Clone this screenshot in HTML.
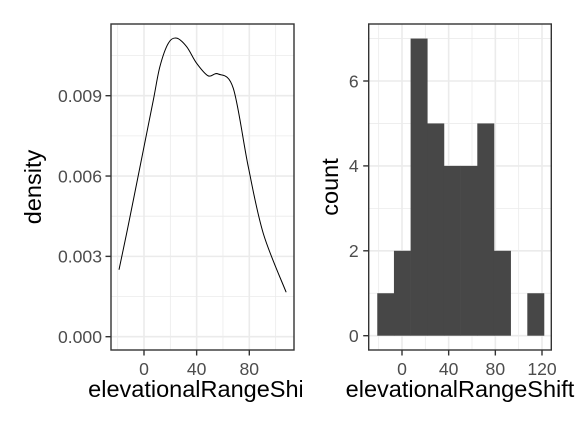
<!DOCTYPE html>
<html><head><meta charset="utf-8"><style>
body{margin:0;background:#fff}
svg{display:block;font-family:"Liberation Sans",Arial,sans-serif}
</style></head><body>
<svg id="chart" width="576" height="432" viewBox="0 0 576 432">
<defs><clipPath id="lclip"><rect x="0" y="0" width="302" height="432"/></clipPath></defs>
</svg>
<script>
// Left: density curve samples
const densX = [-19, -13.2, -8.1, -0.5, 7.1, 12.1, 18.5, 24.8, 32.4, 40, 48.8, 56.4, 67.8, 79.2, 90.6, 108];
const densY = [0.0025, 0.00386, 0.0051, 0.00697, 0.00884, 0.01009, 0.01096, 0.01115, 0.01083, 0.01021, 0.00974, 0.00981, 0.00928, 0.00635, 0.00386, 0.00166];
const densXTicks = [0, 40, 80];
const densYTicks = [0.000, 0.003, 0.006, 0.009];
const densYLabels = ["0.000", "0.003", "0.006", "0.009"];
// Right: histogram
const binStart = -21.2;
const binWidth = 14.29;
const counts = [1, 2, 7, 5, 4, 4, 5, 2, 0, 1];
const histXTicks = [0, 40, 80, 120];
const histYTicks = [0, 2, 4, 6];

const NS = "http://www.w3.org/2000/svg";
const svg = document.getElementById('chart');
function mk(tag, attrs, parent, text){
  const e = document.createElementNS(NS, tag);
  for (const k in attrs) e.setAttribute(k, attrs[k]);
  if (text !== undefined) e.textContent = text;
  (parent || svg).appendChild(e);
  return e;
}
const TF = 17.6, TT = 23.5;

const L = {x0:111, x1:294, y0:24, y1:350};
const lx = v => 144 + (v - 0) * (249.3 - 144) / 80;
const ly = v => 336.7 - v * (336.7 - 95.7) / 0.009;
const R = {x0:368.7, x1:551.3, y0:24, y1:350};
const rx = v => 402 + v * (542 - 402) / 120;
const ry = v => 335.7 - v * (335.7 - 81) / 6;

function panel(P, name){
  const g = mk('g', {}, svg);
  
  
  mk('rect', {x:P.x0, y:P.y0, width:P.x1-P.x0, height:P.y1-P.y0, fill:'#fff'}, g);
  return g;
}

// ---- Left panel ----
const gl = panel(L, 'density-panel');
[-20, 20, 60, 100].forEach(v => mk('line', {x1:lx(v), x2:lx(v), y1:L.y0, y2:L.y1, stroke:'#ebebeb', 'stroke-width':0.8}, gl));
[0.0015, 0.0045, 0.0075, 0.0105].forEach(v => mk('line', {x1:L.x0, x2:L.x1, y1:ly(v), y2:ly(v), stroke:'#ebebeb', 'stroke-width':0.8}, gl));
densXTicks.forEach(v => mk('line', {x1:lx(v), x2:lx(v), y1:L.y0, y2:L.y1, stroke:'#ebebeb', 'stroke-width':1.6}, gl));
densYTicks.forEach(v => mk('line', {x1:L.x0, x2:L.x1, y1:ly(v), y2:ly(v), stroke:'#ebebeb', 'stroke-width':1.6}, gl));
const pts = densX.map((x, i) => [lx(x), ly(densY[i])]);
let d = `M${pts[0][0]},${pts[0][1]}`;
for (let i = 0; i < pts.length - 1; i++) {
  const p0 = pts[Math.max(0, i-1)], p1 = pts[i], p2 = pts[i+1], p3 = pts[Math.min(pts.length-1, i+2)];
  const c1 = [p1[0] + (p2[0]-p0[0])/6, p1[1] + (p2[1]-p0[1])/6];
  const c2 = [p2[0] - (p3[0]-p1[0])/6, p2[1] - (p3[1]-p1[1])/6];
  d += ` C${c1[0]},${c1[1]} ${c2[0]},${c2[1]} ${p2[0]},${p2[1]}`;
}
const curve = mk('path', {d, fill:'none', stroke:'#000', 'stroke-width':1}, gl);


mk('rect', {x:L.x0, y:L.y0, width:L.x1-L.x0, height:L.y1-L.y0, fill:'none', stroke:'#333', 'stroke-width':1.4}, gl);
densXTicks.forEach(v => {
  mk('line', {x1:lx(v), x2:lx(v), y1:L.y1, y2:L.y1+5.5, stroke:'#333', 'stroke-width':1.4}, gl);
  const t = mk('text', {x:lx(v), y:L.y1+25, 'text-anchor':'middle', 'font-size':TF, fill:'#4d4d4d'}, gl, String(v));
  
  
});
densYTicks.forEach((v, i) => {
  mk('line', {x1:L.x0-5.5, x2:L.x0, y1:ly(v), y2:ly(v), stroke:'#333', 'stroke-width':1.4}, gl);
  const t = mk('text', {x:L.x0-9, y:ly(v)+6.3, 'text-anchor':'end', 'font-size':TF, fill:'#4d4d4d'}, gl, densYLabels[i]);
  
  
});
const lxt = mk('text', {x:202.5, y:397, 'text-anchor':'middle', 'font-size':TT, fill:'#000', 'clip-path':'url(#lclip)'}, svg, 'elevationalRangeShift');


const lyt = mk('text', {x:0, y:0, transform:'translate(41,187) rotate(-90)', 'text-anchor':'middle', 'font-size':TT, fill:'#000'}, svg, 'density');



// ---- Right panel ----
const gr = panel(R, 'histogram-panel');
[-20, 20, 60, 100].forEach(v => mk('line', {x1:rx(v), x2:rx(v), y1:R.y0, y2:R.y1, stroke:'#ebebeb', 'stroke-width':0.8}, gr));
[1, 3, 5, 7].forEach(v => mk('line', {x1:R.x0, x2:R.x1, y1:ry(v), y2:ry(v), stroke:'#ebebeb', 'stroke-width':0.8}, gr));
histXTicks.forEach(v => mk('line', {x1:rx(v), x2:rx(v), y1:R.y0, y2:R.y1, stroke:'#ebebeb', 'stroke-width':1.6}, gr));
histYTicks.forEach(v => mk('line', {x1:R.x0, x2:R.x1, y1:ry(v), y2:ry(v), stroke:'#ebebeb', 'stroke-width':1.6}, gr));
counts.forEach((c, i) => {
  if (c <= 0) return;
  const a = binStart + i * binWidth, b = a + binWidth;
  const r = mk('rect', {x:rx(a), y:ry(c), width:rx(b)-rx(a)+0.3, height:ry(0)-ry(c), fill:'#474747'}, gr);
  
  
});
mk('rect', {x:R.x0, y:R.y0, width:R.x1-R.x0, height:R.y1-R.y0, fill:'none', stroke:'#333', 'stroke-width':1.4}, gr);
histXTicks.forEach(v => {
  mk('line', {x1:rx(v), x2:rx(v), y1:R.y1, y2:R.y1+5.5, stroke:'#333', 'stroke-width':1.4}, gr);
  const t = mk('text', {x:rx(v), y:R.y1+25, 'text-anchor':'middle', 'font-size':TF, fill:'#4d4d4d'}, gr, String(v));
  
  
});
histYTicks.forEach(v => {
  mk('line', {x1:R.x0-5.5, x2:R.x0, y1:ry(v), y2:ry(v), stroke:'#333', 'stroke-width':1.4}, gr);
  const t = mk('text', {x:R.x0-10, y:ry(v)+6.3, 'text-anchor':'end', 'font-size':TF, fill:'#4d4d4d'}, gr, String(v));
  
  
});
const rxt = mk('text', {x:460, y:397, 'text-anchor':'middle', 'font-size':TT, fill:'#000'}, svg, 'elevationalRangeShift');


const ryt = mk('text', {x:0, y:0, transform:'translate(338,187) rotate(-90)', 'text-anchor':'middle', 'font-size':TT, fill:'#000'}, svg, 'count');


</script>
</body></html>
